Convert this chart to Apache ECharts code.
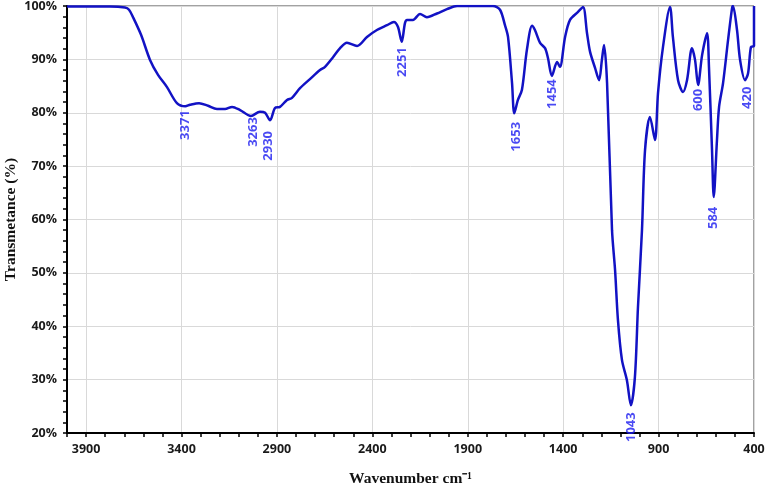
<!DOCTYPE html>
<html>
<head>
<meta charset="utf-8">
<script src="https://cdn.jsdelivr.net/npm/echarts@6/dist/echarts.min.js"></script>
<style>
  html, body { margin: 0; padding: 0; background: #fff; }
  #chart { width: 766px; height: 487px; }
</style>
</head>
<body>
<div id="chart"></div>
<script>
// wavenumber (cm-1) and transmittance (%)
const wavenumbers = [
  4000, 3880, 3775, 3696, 3675, 3654, 3612, 3565, 3523, 3476, 3424, 3380, 3355, 3308, 3261, 3214,
  3172, 3135, 3093, 3036, 2989, 2962, 2936, 2910, 2884, 2847, 2821, 2779, 2727, 2674, 2648, 2606,
  2569, 2533, 2480, 2428, 2376, 2323, 2287, 2266, 2246, 2229, 2218, 2187, 2150, 2114, 2061, 2009,
  1956, 1862, 1768, 1731, 1705, 1689, 1668, 1656, 1637, 1616, 1590, 1563, 1548, 1521, 1495, 1480,
  1459, 1432, 1417, 1390, 1364, 1322, 1296, 1275, 1259, 1233, 1212, 1197, 1186, 1170, 1144, 1128,
  1113, 1092, 1066, 1045, 1024, 1008, 987, 971, 945, 919, 903, 877, 840, 825, 798, 772,
  751, 725, 709, 693, 672, 646, 636, 620, 611, 594, 583, 562, 536, 515, 510, 489,
  473, 447, 431, 416, 400, 400
];
const transmittance = [
  99.9, 99.9, 99.9, 99.7, 99.3, 97.9, 94.6, 89.9, 87.1, 84.8, 81.8, 81.2, 81.5, 81.8, 81.3, 80.7,
  80.7, 81.1, 80.5, 79.4, 80.2, 80.0, 78.6, 80.9, 81.1, 82.4, 82.8, 84.6, 86.3, 88.0, 88.6, 90.4,
  92.1, 93.1, 92.5, 94.2, 95.5, 96.4, 97.0, 96.1, 93.3, 96.8, 97.4, 97.4, 98.5, 97.9, 98.6, 99.4,
  100, 100, 100, 99.3, 96.4, 94.2, 85.6, 79.9, 82.4, 84.3, 91.8, 96.3, 95.5, 93.1, 92.1, 90.3,
  86.9, 89.5, 88.6, 94.2, 97.4, 98.9, 99.8, 94.9, 91.4, 88.4, 86.1, 89.9, 92.7, 85.6, 58.0, 50.5,
  41.2, 33.7, 29.9, 25.2, 30.5, 43.6, 58.0, 73.0, 79.2, 74.9, 83.7, 92.3, 99.8, 94.2, 86.1, 83.9,
  86.1, 92.1, 89.9, 85.2, 90.8, 94.9, 88.6, 73.0, 64.2, 74.9, 81.1, 85.6, 93.6, 99.6, 100, 95.5,
  89.9, 86.1, 87.4, 92.3, 92.5, 100
];

// peak annotations
const peakNames = ['3371', '3263', '2930', '2251', '1653', '1454', '1043', '600', '584', '420'];
const peakX = [3382, 3025, 2947, 2245, 1647, 1459, 1045, 693, 615, 437];
const peakY = [77.7, 76.4, 73.8, 89.5, 75.5, 83.5, 21.1, 82.4, 60.3, 82.8];

const yTicks = [20, 30, 40, 50, 60, 70, 80, 90, 100];

const spectrum = wavenumbers.map((w, i) => [w, transmittance[i]]);
const peaks = peakNames.map((n, i) => [peakX[i], peakY[i], n]);

const chart = echarts.init(document.getElementById('chart'));

const tickFont = { fontFamily: 'Open Sans', fontWeight: 'bold', fontSize: 12.5, color: '#1a1a1a' };

chart.setOption({
  animation: false,
  grid: {
    left: 67, right: 12, top: 6, bottom: 54,
    outerBoundsMode: 'none',
    containLabel: false,
    show: true, borderColor: '#444', borderWidth: 1
  },
  xAxis: [
    {
      type: 'value',
      min: 400, max: 4000, interval: 500,
      inverse: true,
      name: 'Wavenumber cm⁻¹',
      nameLocation: 'middle',
      nameGap: 38,
      nameTextStyle: { fontFamily: 'Liberation Serif', fontWeight: 'bold', fontSize: 15.5, color: '#111' },
      axisLine: { lineStyle: { color: '#000', width: 2 } },
      axisTick: { show: false },
      axisLabel: Object.assign({ margin: 10, showMaxLabel: false, formatter: v => String(v) }, tickFont),
      splitLine: { show: true, lineStyle: { color: '#d9d9d9', width: 1 } }
    },
    {
      // tick marks every 100 cm-1
      type: 'value',
      min: 400, max: 4000, interval: 100,
      inverse: true,
      position: 'bottom',
      axisLine: { show: false },
      axisTick: { show: true, length: 4, lineStyle: { color: '#000', width: 1.5 } },
      axisLabel: { show: false },
      splitLine: { show: false }
    }
  ],
  yAxis: {
    type: 'value',
    min: yTicks[0], max: yTicks[yTicks.length - 1], interval: 10,
    name: 'Transmetance (%)',
    nameLocation: 'middle',
    nameGap: 48,
    nameMoveOverlap: false,
    nameTextStyle: { fontFamily: 'Liberation Serif', fontWeight: 'bold', fontSize: 15.5, color: '#111' },
    axisLine: { show: true, lineStyle: { color: '#000', width: 2 } },
    axisTick: { show: true, length: 4, lineStyle: { color: '#000', width: 1.5 } },
    minorTick: { show: true, splitNumber: 5, length: 4, lineStyle: { color: '#000', width: 1.5 } },
    axisLabel: Object.assign({ margin: 10, formatter: '{value}%' }, tickFont),
    splitLine: { show: true, lineStyle: { color: '#d9d9d9', width: 1 } }
  },
  series: [
    {
      name: 'FTIR',
      type: 'line',
      data: spectrum,
      showSymbol: false,
      smooth: 0.3,
      lineStyle: { color: '#1212c4', width: 2.5 },
      clip: true
    },
    {
      name: 'peaks',
      type: 'scatter',
      data: peaks,
      symbolSize: 0,
      clip: false,
      label: {
        show: true,
        position: 'inside',
        rotate: 90,
        formatter: p => p.data[2],
        fontFamily: 'Open Sans',
        fontWeight: 'bold',
        fontSize: 13,
        color: '#1c1cf0'
      }
    }
  ]
});
</script>
</body>
</html>
